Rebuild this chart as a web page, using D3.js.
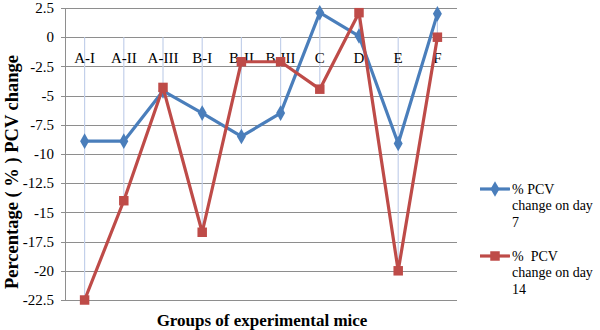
<!DOCTYPE html>
<html>
<head>
<meta charset="utf-8">
<script src="https://cdn.jsdelivr.net/npm/d3@7/dist/d3.min.js"></script>
<style>
  html, body { margin: 0; padding: 0; background: #fff; }
</style>
</head>
<body>
<div id="chart"></div>
<script>
(function () {
  'use strict';

  var groups = ['A-I', 'A-II', 'A-III', 'B-I', 'B-II', 'B-III', 'C', 'D', 'E', 'F'];
  var day7 = [-8.9, -8.9, -4.6, -6.5, -8.5, -6.5, 2.1, 0.1, -9.1, 2.0];
  var day14 = [-22.5, -14.0, -4.3, -16.7, -2.1, -2.1, -4.45, 2.1, -20.0, 0.0];
  var yTicks = [2.5, 0, -2.5, -5, -7.5, -10, -12.5, -15, -17.5, -20, -22.5];

  var colors = { day7: '#4a7ebb', day14: '#be4b48' };
  var serif = '"Liberation Serif", "Times New Roman", serif';
  var width = 600, height = 330;
  var plot = { left: 65, right: 457, top: 8, bottom: 300 };

  var svg = d3.select('#chart').append('svg').attr('width', width).attr('height', height);

  function label(sel) { return sel.style('font-family', serif).attr('fill', '#000'); }

  var x = d3.scalePoint().domain(groups).range([plot.left, plot.right]).padding(0.5);
  var y = d3.scaleLinear().domain([-22.5, 2.5]).range([plot.bottom, plot.top]);

  // horizontal gridlines (with left tick marks)
  svg.append('g').selectAll('line').data(yTicks).enter().append('line')
    .attr('x1', plot.left - 4).attr('x2', plot.right)
    .attr('y1', function (d) { return Math.round(y(d)) + 0.5; })
    .attr('y2', function (d) { return Math.round(y(d)) + 0.5; })
    .attr('stroke', '#8e8e8e').attr('stroke-width', 1);

  // value axis line
  svg.append('line')
    .attr('x1', plot.left + 0.5).attr('x2', plot.left + 0.5)
    .attr('y1', y(2.5)).attr('y2', y(-22.5))
    .attr('stroke', '#8e8e8e').attr('stroke-width', 1);

  // y tick labels
  svg.append('g').selectAll('text').data(yTicks).enter().append('text')
    .call(label)
    .attr('x', 54).attr('y', function (d) { return y(d); })
    .attr('dy', '0.35em').attr('text-anchor', 'end').attr('font-size', 15)
    .text(function (d) { return d; });

  // drop lines from the category axis (at 0) to each point
  var drops = groups.map(function (g, i) {
    return { g: g, lo: Math.min(0, day7[i], day14[i]), hi: Math.max(0, day7[i], day14[i]) };
  });
  svg.append('g').selectAll('line').data(drops).enter().append('line')
    .attr('x1', function (d) { return x(d.g); }).attr('x2', function (d) { return x(d.g); })
    .attr('y1', function (d) { return y(d.hi); }).attr('y2', function (d) { return y(d.lo); })
    .attr('stroke', '#c3d0ea').attr('stroke-width', 1.2);

  // category labels sit just under the 0 line
  svg.append('g').selectAll('text').data(groups).enter().append('text')
    .call(label)
    .attr('x', function (d) { return x(d); }).attr('y', y(0) + 26)
    .attr('text-anchor', 'middle').attr('font-size', 15)
    .text(function (d) { return d; });

  var line = d3.line()
    .x(function (d) { return x(d.g); })
    .y(function (d) { return y(d.v); });

  function pts(vals) { return vals.map(function (v, i) { return { g: groups[i], v: v }; }); }

  var diamond = d3.symbol().type(d3.symbolDiamond).size(70);
  var square = d3.symbol().type(d3.symbolSquare).size(90);

  // day 7 series
  svg.append('path').datum(pts(day7)).attr('d', line)
    .attr('fill', 'none').attr('stroke', colors.day7).attr('stroke-width', 3.2).attr('stroke-linejoin', 'round');
  svg.append('g').selectAll('path').data(pts(day7)).enter().append('path')
    .attr('d', diamond)
    .attr('transform', function (d) { return 'translate(' + x(d.g) + ',' + y(d.v) + ')'; })
    .attr('fill', colors.day7);

  // day 14 series
  svg.append('path').datum(pts(day14)).attr('d', line)
    .attr('fill', 'none').attr('stroke', colors.day14).attr('stroke-width', 3.2).attr('stroke-linejoin', 'round');
  svg.append('g').selectAll('path').data(pts(day14)).enter().append('path')
    .attr('d', square)
    .attr('transform', function (d) { return 'translate(' + x(d.g) + ',' + y(d.v) + ')'; })
    .attr('fill', colors.day14);

  // axis titles
  svg.append('text').call(label)
    .attr('x', 262).attr('y', 326).attr('text-anchor', 'middle')
    .attr('font-size', 17).attr('font-weight', 'bold')
    .text('Groups of experimental mice');
  svg.append('text').call(label)
    .attr('transform', 'translate(18,172) rotate(-90)').attr('text-anchor', 'middle')
    .attr('font-size', 18.5).attr('font-weight', 'bold').style('white-space', 'pre')
    .text('Percentage ( % ) PCV change');

  // legend
  var legend = [
    { color: colors.day7, sym: diamond, lines: ['% PCV', 'change on day', '7'], y: 189 },
    { color: colors.day14, sym: square, lines: ['%  PCV', 'change on day', '14'], y: 256 }
  ];
  legend.forEach(function (item) {
    var lg = svg.append('g');
    lg.append('line').attr('x1', 480).attr('x2', 510).attr('y1', item.y).attr('y2', item.y)
      .attr('stroke', item.color).attr('stroke-width', 3.2);
    lg.append('path').attr('d', item.sym).attr('transform', 'translate(495,' + item.y + ')').attr('fill', item.color);
    item.lines.forEach(function (t, i) {
      lg.append('text').call(label)
        .attr('x', 512).attr('y', item.y + i * 16.5).attr('dy', '0.35em')
        .attr('font-size', 14).style('white-space', 'pre')
        .text(t);
    });
  });
})();
</script>
</body>
</html>
